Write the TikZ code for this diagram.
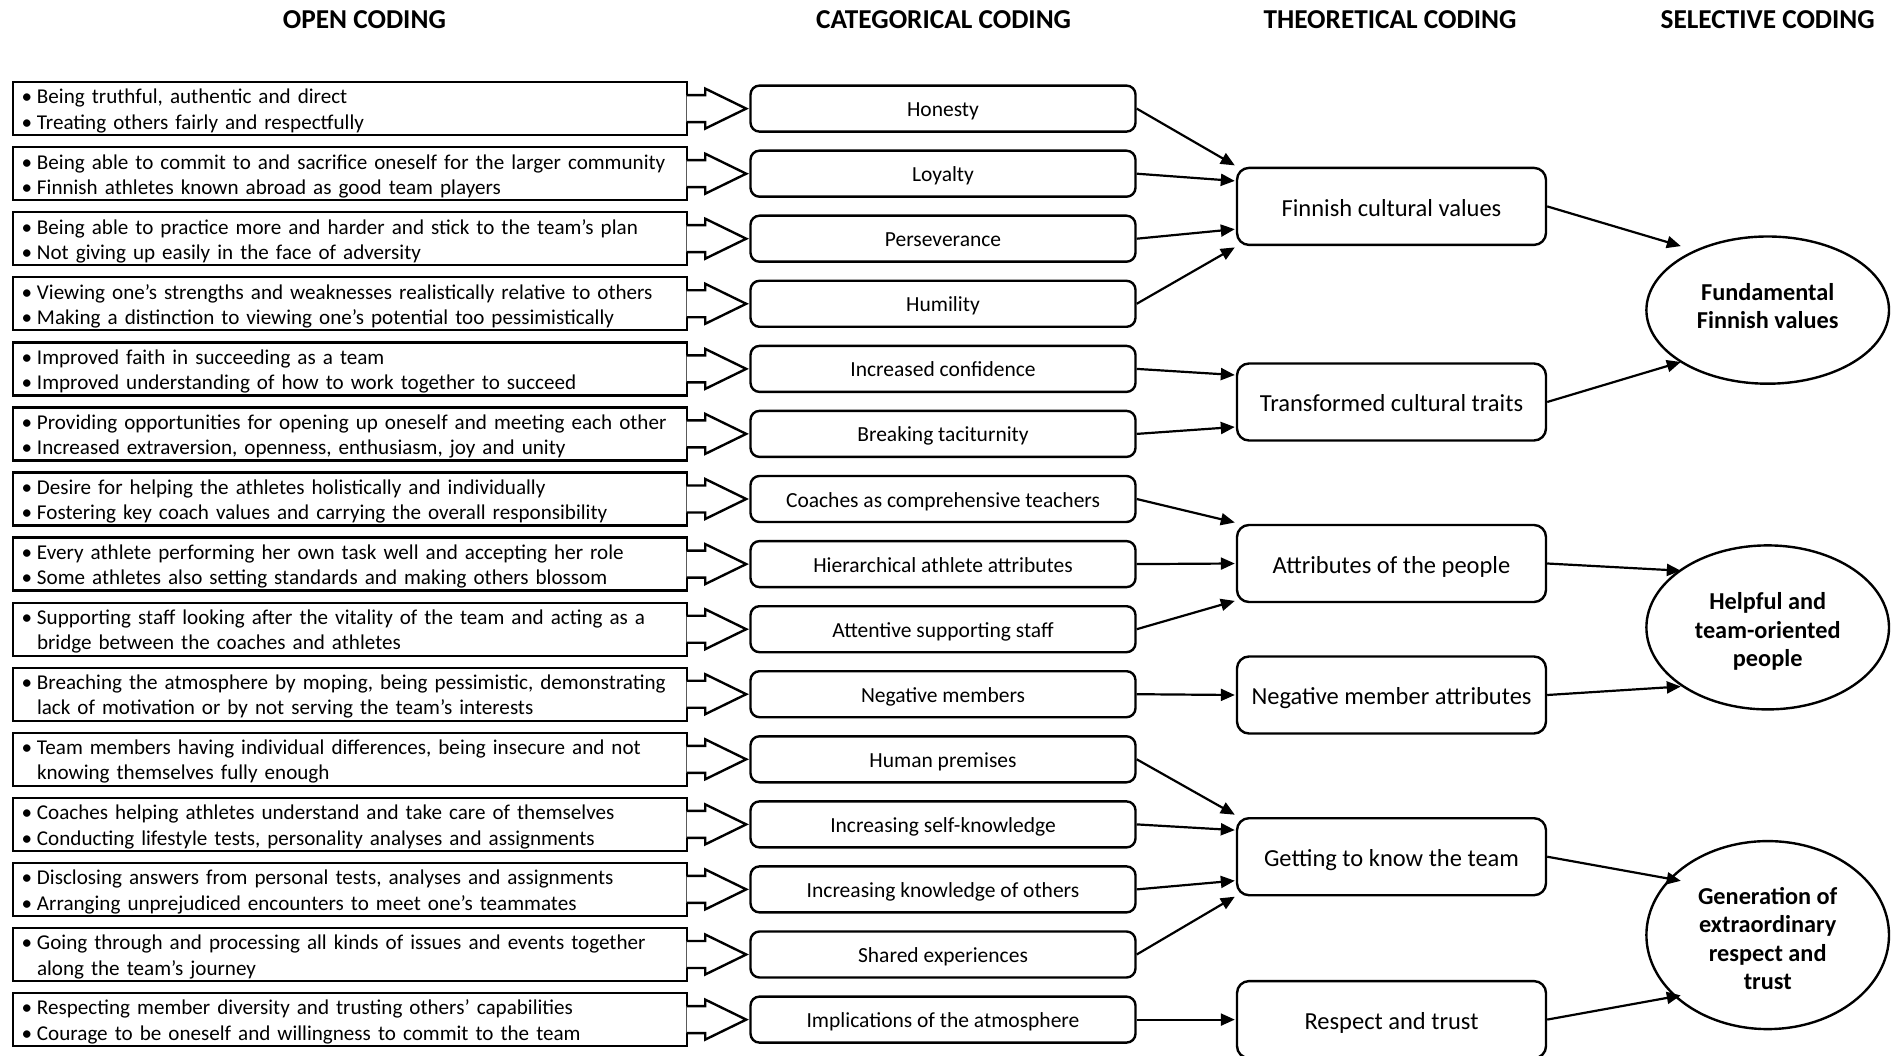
\documentclass[tikz,border=0pt]{standalone}
\usepackage{fontspec}
\setmainfont{Carlito}
\usetikzlibrary{arrows.meta,shapes.geometric,calc}

% bullet (with a strut that sets the first line a little lower) and hanging indent
\newcommand\bl{\rule{0pt}{19.6pt}\makebox[15.5pt][l]{•}}
\newcommand\hang{\makebox[15.5pt]{}}

\begin{document}
\begin{tikzpicture}[x=1pt,y=-1pt,
  header/.style={font=\fontsize{27.3}{32}\selectfont\bfseries},
  openbox/.style={draw,line width=2.4pt,minimum height=53pt,text width=657pt,
    inner xsep=8.5pt,inner ysep=0pt,align=left,font=\fontsize{21.1}{25.3}\selectfont},
  catbox/.style={draw,line width=2.4pt,rounded corners=9pt,minimum width=385pt,
    minimum height=46pt,inner sep=0pt,text height=18pt,text depth=2pt,
    font=\fontsize{21.5}{26}\selectfont},
  theobox/.style={draw,line width=2.4pt,rounded corners=12pt,minimum width=309pt,
    minimum height=77pt,inner sep=0pt,text height=21pt,text depth=1.7pt,
    font=\fontsize{24.5}{29}\selectfont},
  selell/.style={draw,ellipse,line width=2.4pt,inner sep=0pt,minimum width=242.6pt},
  seltext/.style={align=center,inner sep=0pt,font=\fontsize{24.3}{28.3}\selectfont\bfseries},
  link/.style={line width=2.2pt,-{Triangle[length=14pt,width=12pt]}},
  blockarrow/.style={draw,fill=white,line width=2.4pt,line join=miter}
]
\useasboundingbox (0,0) rectangle (1892,1056);

% column headings
\node[header] (h1) at (364.4,19.3) {OPEN CODING};
\node[header] (h2) at (943.6,19.3) {CATEGORICAL CODING};
\node[header] (h3) at (1390,19.3) {THEORETICAL CODING};
\node[header] (h4) at (1767.7,19.3) {SELECTIVE CODING};

% open coding
\node[openbox] (o0) at (350,108.6) {\bl Being truthful, authentic and direct\\\bl Treating others fairly and respectfully};
\node[openbox] (o1) at (350,173.7) {\bl Being able to commit to and sacrifice oneself for the larger community\\\bl Finnish athletes known abroad as good team players};
\node[openbox] (o2) at (350,238.7) {\bl Being able to practice more and harder and stick to the team’s plan\\\bl Not giving up easily in the face of adversity};
\node[openbox] (o3) at (350,303.8) {\bl Viewing one’s strengths and weaknesses realistically relative to others\\\bl Making a distinction to viewing one’s potential too pessimistically};
\node[openbox] (o4) at (350,368.9) {\bl Improved faith in succeeding as a team\\\bl Improved understanding of how to work together to succeed};
\node[openbox] (o5) at (350,433.9) {\bl Providing opportunities for opening up oneself and meeting each other\\\bl Increased extraversion, openness, enthusiasm, joy and unity};
\node[openbox] (o6) at (350,499.0) {\bl Desire for helping the athletes holistically and individually\\\bl Fostering key coach values and carrying the overall responsibility};
\node[openbox] (o7) at (350,564.1) {\bl Every athlete performing her own task well and accepting her role\\\bl Some athletes also setting standards and making others blossom};
\node[openbox] (o8) at (350,629.2) {\bl Supporting staff looking after the vitality of the team and acting as a\\\hang bridge between the coaches and athletes};
\node[openbox] (o9) at (350,694.2) {\bl Breaching the atmosphere by moping, being pessimistic, demonstrating\\\hang lack of motivation or by not serving the team’s interests};
\node[openbox] (o10) at (350,759.3) {\bl Team members having individual differences, being insecure and not\\\hang knowing themselves fully enough};
\node[openbox] (o11) at (350,824.4) {\bl Coaches helping athletes understand and take care of themselves\\\bl Conducting lifestyle tests, personality analyses and assignments};
\node[openbox] (o12) at (350,889.4) {\bl Disclosing answers from personal tests, analyses and assignments\\\bl Arranging unprejudiced encounters to meet one’s teammates};
\node[openbox] (o13) at (350,954.5) {\bl Going through and processing all kinds of issues and events together\\\hang along the team’s journey};
\node[openbox] (o14) at (350,1019.6) {\bl Respecting member diversity and trusting others’ capabilities\\\bl Courage to be oneself and willingness to commit to the team};

% block arrows leaving each open-coding box
\foreach \i in {0,...,14}
  \path[blockarrow] ([shift={(-1.5,-13.5)}]o\i.east) -- ++(18.5,0) -- ++(0,-6.5)
    -- ++(41,20) -- ++(-41,20) -- ++(0,-6.5) -- ++(-18.5,0);

% categorical coding
\node[catbox] (c0) at (943,108.6) {Honesty};
\node[catbox] (c1) at (943,173.7) {Loyalty};
\node[catbox] (c2) at (943,238.7) {Perseverance};
\node[catbox] (c3) at (943,303.8) {Humility};
\node[catbox] (c4) at (943,368.9) {Increased confidence};
\node[catbox] (c5) at (943,433.9) {Breaking taciturnity};
\node[catbox] (c6) at (943,499.0) {Coaches as comprehensive teachers};
\node[catbox] (c7) at (943,564.1) {Hierarchical athlete attributes};
\node[catbox] (c8) at (943,629.2) {Attentive supporting staff};
\node[catbox] (c9) at (943,694.2) {Negative members};
\node[catbox] (c10) at (943,759.3) {Human premises};
\node[catbox] (c11) at (943,824.4) {Increasing self-knowledge};
\node[catbox] (c12) at (943,889.4) {Increasing knowledge of others};
\node[catbox] (c13) at (943,954.5) {Shared experiences};
\node[catbox] (c14) at (943,1019.6) {Implications of the atmosphere};

% theoretical coding
\node[theobox] (fcv) at (1391.5,206.4) {Finnish cultural values};
\node[theobox] (tct) at (1391.5,402) {Transformed cultural traits};
\node[theobox] (atp) at (1391.5,563.5) {Attributes of the people};
\node[theobox] (nma) at (1391.5,695) {Negative member attributes};
\node[theobox] (gtk) at (1391.5,856.7) {Getting to know the team};
\node[theobox] (rat) at (1391.5,1019.6) {Respect and trust};

% selective coding
\node[selell,minimum height=147.2pt] (fund) at (1767.7,310.1) {};
\node[selell,minimum height=164pt] (help) at (1767.7,627.4) {};
\node[selell,minimum height=188pt] (gen) at (1767.7,935.1) {};
\node[seltext] (fundtxt) at ([yshift=4pt]fund.center) {Fundamental\\Finnish values};
\node[seltext] (helptxt) at ([yshift=-4pt]help.center) {Helpful and\\team-oriented\\people};
\node[seltext] (gentxt) at ([yshift=-3.5pt]gen.center) {Generation of\\extraordinary\\respect and\\trust};

% categories into theoretical codes
\draw[link] (c0.east) -- ([shift={(-1,-41)}]fcv.west);
\draw[link] (c1.east) -- ([shift={(-1,-25.5)}]fcv.west);
\draw[link] (c2.east) -- ([shift={(-1,22.8)}]fcv.west);
\draw[link] (c3.east) -- ([shift={(-1,41)}]fcv.west);
\draw[link] (c4.east) -- ([shift={(-1,-27)}]tct.west);
\draw[link] (c5.east) -- ([shift={(-1,25)}]tct.west);
\draw[link] (c6.east) -- ([shift={(-1,-41)}]atp.west);
\draw[link] (c7.east) -- ([shift={(-1,0)}]atp.west);
\draw[link] (c8.east) -- ([shift={(-1,37.4)}]atp.west);
\draw[link] (c9.east) -- ([shift={(-1,0)}]nma.west);
\draw[link] (c10.east) -- ([shift={(-1,-42)}]gtk.west);
\draw[link] (c11.east) -- ([shift={(-1,-26.6)}]gtk.west);
\draw[link] (c12.east) -- ([shift={(-1,24)}]gtk.west);
\draw[link] (c13.east) -- ([shift={(-1,40)}]gtk.west);
\draw[link] (c14.east) -- ([shift={(-1,0)}]rat.west);

% theoretical codes into selective codes
\draw[link] (fcv.east) -- ([shift={(-86.9,-64)}]fund.center);
\draw[link] (tct.east) -- ([shift={(-86.9,51.9)}]fund.center);
\draw[link] (atp.east) -- ([shift={(-86.9,-56.7)}]help.center);
\draw[link] (nma.east) -- ([shift={(-86.9,59.1)}]help.center);
\draw[link] (gtk.east) -- ([shift={(-86.9,-54.3)}]gen.center);
\draw[link] (rat.east) -- ([shift={(-86.9,60.3)}]gen.center);
\end{tikzpicture}
\end{document}
